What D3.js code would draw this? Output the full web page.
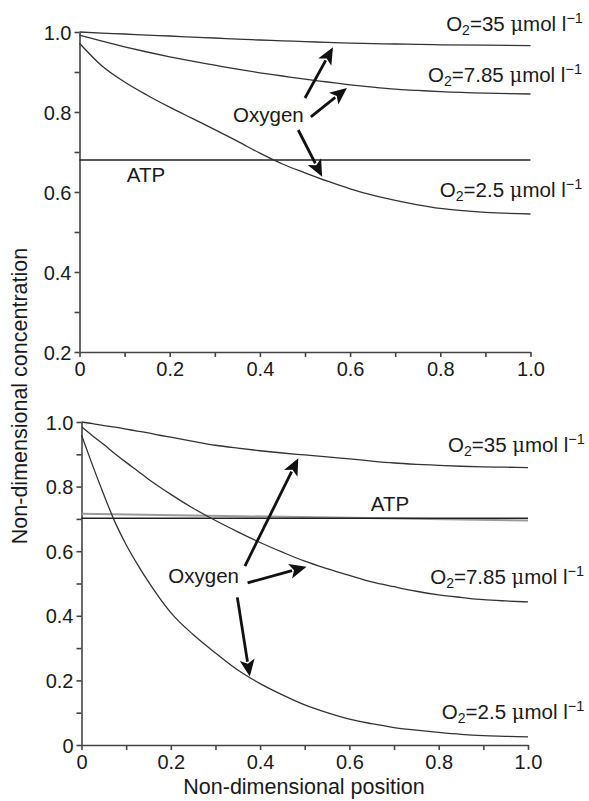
<!DOCTYPE html>
<html>
<head>
<meta charset="utf-8">
<script src="https://cdn.jsdelivr.net/npm/d3@7"></script>
<style>
  html, body { margin: 0; padding: 0; background: #fff; }
  svg { display: block; font-family: "Liberation Sans", Arial, sans-serif; }
  text { fill: #1a1a1a; }
</style>
</head>
<body>
<svg id="chart" width="589" height="801"></svg>
<script>
// Non-dimensional position along the domain
const xTicks = [0, 0.2, 0.4, 0.6, 0.8, 1.0];
const xTickLabels = ["0", "0.2", "0.4", "0.6", "0.8", "1.0"];

// Upper panel: profiles
const topX = [0, 0.05, 0.1, 0.15, 0.2, 0.25, 0.3, 0.35, 0.4, 0.45, 0.5, 0.55, 0.6, 0.65, 0.7, 0.75, 0.8, 0.9, 1.0];
const topO2_35  = [1.0, 0.997, 0.995, 0.992, 0.99, 0.987, 0.985, 0.982, 0.98, 0.978, 0.976, 0.974, 0.972, 0.971, 0.97, 0.969, 0.968, 0.967, 0.966];
const topO2_785 = [0.992, 0.977, 0.963, 0.95, 0.938, 0.927, 0.917, 0.907, 0.898, 0.89, 0.882, 0.875, 0.868, 0.862, 0.857, 0.854, 0.851, 0.847, 0.845];
const topO2_25  = [0.972, 0.915, 0.875, 0.842, 0.812, 0.784, 0.756, 0.727, 0.697, 0.67, 0.648, 0.627, 0.608, 0.592, 0.579, 0.568, 0.559, 0.549, 0.545];
const topATP = 0.68;
const topYTicks = [0.2, 0.4, 0.6, 0.8, 1.0];
const topYTickLabels = ["0.2", "0.4", "0.6", "0.8", "1.0"];

// Lower panel: profiles
const botX = [0, 0.025, 0.05, 0.075, 0.1, 0.125, 0.15, 0.175, 0.2, 0.25, 0.3, 0.35, 0.4, 0.45, 0.5, 0.55, 0.6, 0.65, 0.7, 0.75, 0.8, 0.85, 0.9, 0.95, 1.0];
const botO2_35  = [1.0, 0.995, 0.989, 0.984, 0.978, 0.972, 0.966, 0.959, 0.953, 0.94, 0.928, 0.919, 0.911, 0.904, 0.898, 0.892, 0.886, 0.879, 0.873, 0.869, 0.866, 0.863, 0.861, 0.86, 0.859];
const botO2_785 = [0.985, 0.957, 0.93, 0.902, 0.875, 0.849, 0.823, 0.799, 0.776, 0.733, 0.695, 0.66, 0.627, 0.597, 0.569, 0.546, 0.525, 0.505, 0.49, 0.476, 0.465, 0.457, 0.45, 0.446, 0.443];
const botO2_25  = [0.96, 0.865, 0.775, 0.69, 0.62, 0.56, 0.505, 0.455, 0.41, 0.342, 0.285, 0.232, 0.19, 0.155, 0.124, 0.1, 0.08, 0.066, 0.054, 0.046, 0.039, 0.033, 0.029, 0.027, 0.025];
const botATP = 0.702;
const botATPAlt = [0.716, 0.695];   // second ATP trace, start and end
const botYTicks = [0, 0.2, 0.4, 0.6, 0.8, 1.0];
const botYTickLabels = ["0", "0.2", "0.4", "0.6", "0.8", "1.0"];

// Annotation arrows (tail -> tip), in data units
const topArrows = [
  [[0.500, 0.835], [0.562, 0.962]],
  [[0.513, 0.788], [0.593, 0.860]],
  [[0.485, 0.755], [0.538, 0.638]]
];
const botArrows = [
  [[0.366, 0.554], [0.4855, 0.888]],
  [[0.372, 0.502], [0.504, 0.552]],
  [[0.349, 0.457], [0.377, 0.212]]
];

const svg = d3.select("#chart");
const lineColor = "#333";
const axisColor = "#444";

function drawPanel(cfg) {
  const x = d3.scaleLinear().domain([0, 1]).range(cfg.xRange);
  const y = d3.scaleLinear().domain(cfg.yDomain).range(cfg.yRange);
  const g = svg.append("g");

  // axes with unlabelled minor ticks every 0.1
  const xAxis = d3.axisBottom(x)
    .tickValues(d3.range(0, 1.0001, 0.1).map(v => +v.toFixed(1)))
    .tickSize(5).tickSizeOuter(0)
    .tickFormat(v => { const i = xTicks.findIndex(t => Math.abs(t - v) < 1e-9); return i >= 0 ? xTickLabels[i] : ""; });
  const yAxis = d3.axisLeft(y)
    .tickValues(d3.range(cfg.yDomain[0], cfg.yDomain[1] + 1e-4, 0.1).map(v => +v.toFixed(1)))
    .tickSize(5).tickSizeOuter(0)
    .tickFormat(v => { const i = cfg.yTicks.findIndex(t => Math.abs(t - v) < 1e-9); return i >= 0 ? cfg.yTickLabels[i] : ""; });

  const gx = g.append("g").attr("transform", `translate(0,${cfg.yRange[0]})`).call(xAxis);
  const gy = g.append("g").attr("transform", `translate(${cfg.xRange[0]},0)`).call(yAxis);
  [gx, gy].forEach(a => {
    a.selectAll("path, line").attr("stroke", axisColor).attr("stroke-width", 1.6);
    a.selectAll("text").attr("font-size", 20).attr("fill", "#1a1a1a")
      .attr("font-family", '"Liberation Sans", Arial, sans-serif');
  });
  gx.selectAll("text").attr("dy", "0.71em").attr("y", 10);
  gy.selectAll("text").attr("x", -8).attr("dy", "0.35em");

  const line = d3.line().x(d => x(d[0])).y(d => y(d[1])).curve(d3.curveMonotoneX);

  // ATP lines
  (cfg.atpAlt ? [cfg.atpAlt] : []).forEach(a => {
    g.append("path").attr("d", line([[0, a[0]], [1, a[1]]]))
      .attr("fill", "none").attr("stroke", "#9a9a9a").attr("stroke-width", 2);
  });
  g.append("path").attr("d", line([[0, cfg.atp], [1, cfg.atp]]))
    .attr("fill", "none").attr("stroke", "#222").attr("stroke-width", cfg.atpAlt ? 1.6 : 1.3);

  // oxygen profiles
  cfg.series.forEach(s => {
    g.append("path").attr("d", line(cfg.xs.map((v, i) => [v, s[i]])))
      .attr("fill", "none").attr("stroke", lineColor).attr("stroke-width", 1.3);
  });

  // arrows
  cfg.arrows.forEach(([t, h]) => {
    const x0 = x(t[0]), y0 = y(t[1]), x1 = x(h[0]), y1 = y(h[1]);
    const ang = Math.atan2(y1 - y0, x1 - x0);
    const L = 17, W = 7.5;
    const bx = x1 - L * Math.cos(ang), by = y1 - L * Math.sin(ang);
    g.append("line").attr("x1", x0).attr("y1", y0).attr("x2", bx + 2 * Math.cos(ang)).attr("y2", by + 2 * Math.sin(ang))
      .attr("stroke", "#111").attr("stroke-width", 2.8);
    const px = -Math.sin(ang) * W, py = Math.cos(ang) * W;
    g.append("path")
      .attr("d", `M${x1},${y1}L${bx + px},${by + py}L${bx + 4 * Math.cos(ang)},${by + 4 * Math.sin(ang)}L${bx - px},${by - py}Z`)
      .attr("fill", "#111");
  });

  // text labels
  cfg.labels.forEach(l => {
    const t = g.append("text").attr("x", x(l.x)).attr("y", y(l.y)).attr("font-size", 20.5);
    if (l.o2) {
      t.append("tspan").text("O");
      t.append("tspan").text("2").attr("font-size", 14).attr("dy", 4);
      t.append("tspan").text("=" + l.o2 + " ").attr("dy", -4);
      t.append("tspan").text("μ").attr("font-family", '"DejaVu Serif", serif').attr("font-size", 19.5);
      t.append("tspan").text("mol l");
      t.append("tspan").text("−1").attr("font-size", 14.5).attr("dy", -8);
    } else {
      t.text(l.text);
    }
  });
  return { x, y };
}

drawPanel({
  xRange: [79.5, 530.5], yDomain: [0.2, 1.0], yRange: [352, 32],
  yTicks: topYTicks, yTickLabels: topYTickLabels,
  xs: topX, series: [topO2_35, topO2_785, topO2_25], atp: topATP,
  arrows: topArrows,
  labels: [
    { x: 0.813, y: 1.0035, o2: "35" },
    { x: 0.773, y: 0.875, o2: "7.85" },
    { x: 0.799, y: 0.5885, o2: "2.5" },
    { x: 0.3405, y: 0.776, text: "Oxygen" },
    { x: 0.105, y: 0.6245, text: "ATP" }
  ]
});

drawPanel({
  xRange: [81.5, 528], yDomain: [0, 1.0], yRange: [745, 422],
  yTicks: botYTicks, yTickLabels: botYTickLabels,
  xs: botX, series: [botO2_35, botO2_785, botO2_25], atp: botATP, atpAlt: botATPAlt,
  arrows: botArrows,
  labels: [
    { x: 0.821, y: 0.9075, o2: "35" },
    { x: 0.781, y: 0.4985, o2: "7.85" },
    { x: 0.807, y: 0.08, o2: "2.5" },
    { x: 0.1945, y: 0.5026, text: "Oxygen" },
    { x: 0.648, y: 0.7245, text: "ATP" }
  ]
});

// axis titles
svg.append("text").attr("x", 304).attr("y", 794).attr("text-anchor", "middle")
  .attr("font-size", 21.5).text("Non-dimensional position");
svg.append("text").attr("transform", "translate(27,396) rotate(-90)").attr("text-anchor", "middle")
  .attr("font-size", 21.5).text("Non-dimensional concentration");
</script>
</body>
</html>
